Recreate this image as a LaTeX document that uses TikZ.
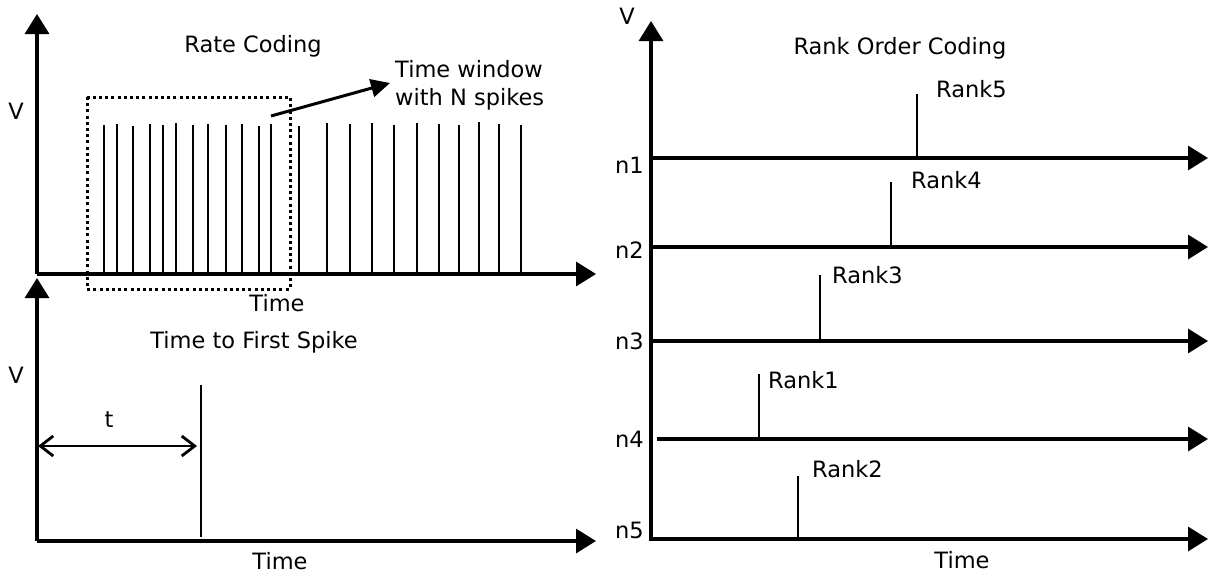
\documentclass[tikz,border=0pt]{standalone}
\usepackage{fontspec}
\setmainfont{DejaVu Sans}
\usetikzlibrary{arrows.meta}
\begin{document}
\begin{tikzpicture}[x=1pt,y=-1pt,
  axis/.style={line width=3.3pt,-{Triangle[length=20pt,width=24pt]}},
  spk/.style={line width=2.9pt},
  lbl/.style={inner sep=0pt,font=\fontsize{22.5}{27}\selectfont},
  lblw/.style={lbl,anchor=west},
  lble/.style={lbl,anchor=east}]
\useasboundingbox (0,0) rectangle (1208,574);
% ---------------- Rate coding ----------------
\coordinate (o1) at (37,274);
\coordinate (y1) at (37,14);
\coordinate (x1) at (596,274);
\draw[axis] (o1) -- (y1);
\draw[axis] (o1) -- (x1);
\node[lbl] (v1) at (16,111) {V};
\node[lbl] (rc) at (253,46) {Rate Coding};
\node[lbl] (t1) at (277,303) {Time};
\foreach \x/\t [count=\i] in {104/125,117/124,133/126,150/124,163/125,176/123,193/125,208/124,226/125,242/124,259/126,271/124,299/126,327/123,350/124,372/123,394/125,417/123,439/124,459/125,479/122,499/124,521/125}{
  \coordinate (sb\i) at (\x,274);
  \coordinate (st\i) at (\x,\t);
  \draw[spk] (sb\i) -- (st\i);
}
\coordinate (bw1) at (87,97);
\coordinate (bw2) at (290,289);
\draw[line width=3pt,dash pattern=on 3pt off 3.2pt] (bw1) rectangle (bw2);
\node[lblw,align=left] (tw) at (395,85) {Time window\\[1pt]with N spikes};
\coordinate (as) at (271,116);
\coordinate (ae) at (390,83);
\draw[line width=3pt,-{Triangle[length=19pt,width=18pt]}] (as) -- (ae);
% ---------------- Time to first spike ----------------
\coordinate (o2) at (37,541);
\coordinate (y2) at (37,278);
\coordinate (x2) at (596,541);
\draw[axis] (o2) -- (y2);
\draw[axis] (o2) -- (x2);
\node[lbl] (v2) at (16,375) {V};
\node[lbl] (tfs) at (254,342) {Time to First Spike};
\node[lbl] (t2) at (280,561) {Time};
\coordinate (fsb) at (201,537);
\coordinate (fst) at (201,385);
\draw[spk] (fsb) -- (fst);
\coordinate (da) at (38,446);
\coordinate (db) at (197,446);
\draw[line width=2.8pt,{Straight Barb[length=13pt,width=20pt]}-{Straight Barb[length=13pt,width=20pt]}] (da) -- (db);
\node[lbl] (tt) at (109,420) {t};
% ---------------- Rank order coding ----------------
\coordinate (o3) at (651,541);
\coordinate (y3) at (651,21);
\draw[axis] (o3) -- (y3);
\node[lbl] (v3) at (627,16) {V};
\node[lbl] (roc) at (900,48) {Rank Order Coding};
\node[lbl] (t3) at (962,560) {Time};
\foreach \n/\y/\ly/\sx/\st/\rk/\rx/\ry/\lx [count=\i] in {
  n1/158/165/917/94/Rank5/936/89/651,
  n2/247/250/891/182/Rank4/911/180/651,
  n3/341/341/820/275/Rank3/832/275/651,
  n4/439/439/759/374/Rank1/768/380/657,
  n5/539/530/798/476/Rank2/812/469/651}{
  \coordinate (ls\i) at (\lx,\y);
  \coordinate (le\i) at (1208,\y);
  \draw[axis] (ls\i) -- (le\i);
  \node[lble] (nl\i) at (644,\ly) {\n};
  \coordinate (rb\i) at (\sx,\y);
  \coordinate (rt\i) at (\sx,\st);
  \draw[spk] (rb\i) -- (rt\i);
  \node[lblw] (rl\i) at (\rx,\ry) {\rk};
}
\end{tikzpicture}
\end{document}
